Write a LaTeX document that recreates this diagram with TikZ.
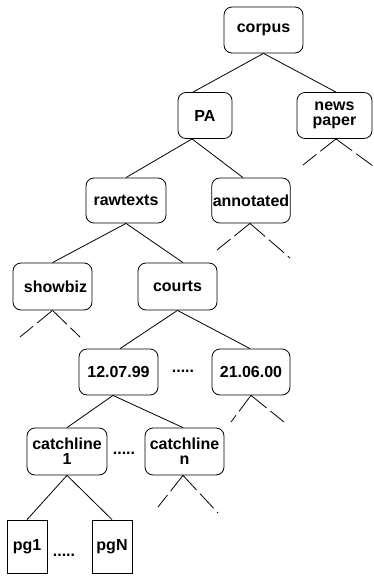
\documentclass[tikz,border=0pt]{standalone}
\usepackage{fontspec}
\setmainfont{Liberation Sans}
\begin{document}
\begin{tikzpicture}[x=1pt,y=-1pt,
  line width=0.8pt,
  box/.style={draw, rounded corners=8pt, minimum width=79pt, minimum height=46pt,
    inner sep=1pt, align=center, font=\fontsize{16}{15}\selectfont\bfseries},
  page/.style={draw, minimum width=40pt, minimum height=53pt, inner sep=1pt,
    font=\fontsize{16}{15}\selectfont\bfseries},
  dots/.style={font=\fontsize{16}{16}\selectfont\bfseries, inner sep=0pt},
  dsh/.style={dash pattern=on 20pt off 5pt}]
\useasboundingbox (0,0) rectangle (373,576);
% nodes
\node[box] (corpus) at (263.5,30) {corpus};
\node[box, minimum width=54pt] (PA) at (205,115.5) {PA};
\node[box, minimum width=75pt] (news) at (334.5,115.5) {news\\paper};
\node[box, minimum width=80pt, minimum height=45pt] (raw) at (126,200.5) {rawtexts};
\node[box, minimum width=78pt, minimum height=45pt] (ann) at (251,200.5) {annotated};
\node[box, minimum height=47pt] (show) at (52.5,286.5) {\hspace*{6pt}showbiz};
\node[box, minimum height=47pt] (courts) at (177.5,286.5) {courts};
\node[box] (d1) at (118.5,372) {12.07.99};
\node[box, minimum width=78pt] (d2) at (251,372) {21.06.00};
\node[box, minimum width=80pt, minimum height=47pt] (c1) at (67,451.5) {catchline\\1};
\node[box, minimum height=47pt] (cn) at (184.5,451.5) {catchline\\n};
\node[page] (p1) at (27,546.5) {pg1};
\node[page] (pN) at (112,546.5) {pgN};
\node[dots] (dotsA) at (183,371) {.....};
\node[dots] (dotsB) at (124,453) {.....};
\node[dots] (dotsC) at (64,555) {.....};
% free ends of dashed lines
\coordinate (nL) at (303,165);
\coordinate (nR) at (373,166);
\coordinate (aL) at (217,250);
\coordinate (aR) at (290,258);
\coordinate (sL) at (20,337);
\coordinate (sR) at (80,337);
\coordinate (dL) at (231,422);
\coordinate (dR) at (284,422);
\coordinate (cL) at (158,507);
\coordinate (cR) at (218,513);
% connectors
\draw (corpus.south) -- ([xshift=-12pt]PA.north);
\draw (corpus.south) -- ([xshift=1.5pt]news.north);
\draw ([xshift=-13pt]PA.south) -- (raw.north);
\draw ([xshift=-13pt]PA.south) -- ([xshift=-8pt]ann.north);
\draw (raw.south) -- (show.north);
\draw (raw.south) -- ([xshift=5.5pt]courts.north);
\draw (courts.south) -- ([xshift=1.5pt]d1.north);
\draw (courts.south) -- ([xshift=-1pt]d2.north);
\draw ([xshift=-5.5pt]d1.south) -- (c1.north);
\draw ([xshift=-5.5pt]d1.south) -- ([xshift=-1.5pt]cn.north);
\draw (c1.south) -- (p1.north);
\draw (c1.south) -- (pN.north);
% dashed continuations
\draw[dsh] ([xshift=1.5pt]news.south) -- (nL);
\draw[dsh] ([xshift=1.5pt]news.south) -- (nR);
\draw[dsh] ([xshift=-1pt]ann.south) -- (aL);
\draw[dsh] ([xshift=-1pt]ann.south) -- (aR);
\draw[dsh] (show.south) -- (sL);
\draw[dsh] (show.south) -- (sR);
\draw[dsh] (d2.south) -- (dL);
\draw[dsh] (d2.south) -- (dR);
\draw[dsh] ([xshift=-1.5pt]cn.south) -- (cL);
\draw[dsh] ([xshift=-1.5pt]cn.south) -- (cR);
\end{tikzpicture}
\end{document}
